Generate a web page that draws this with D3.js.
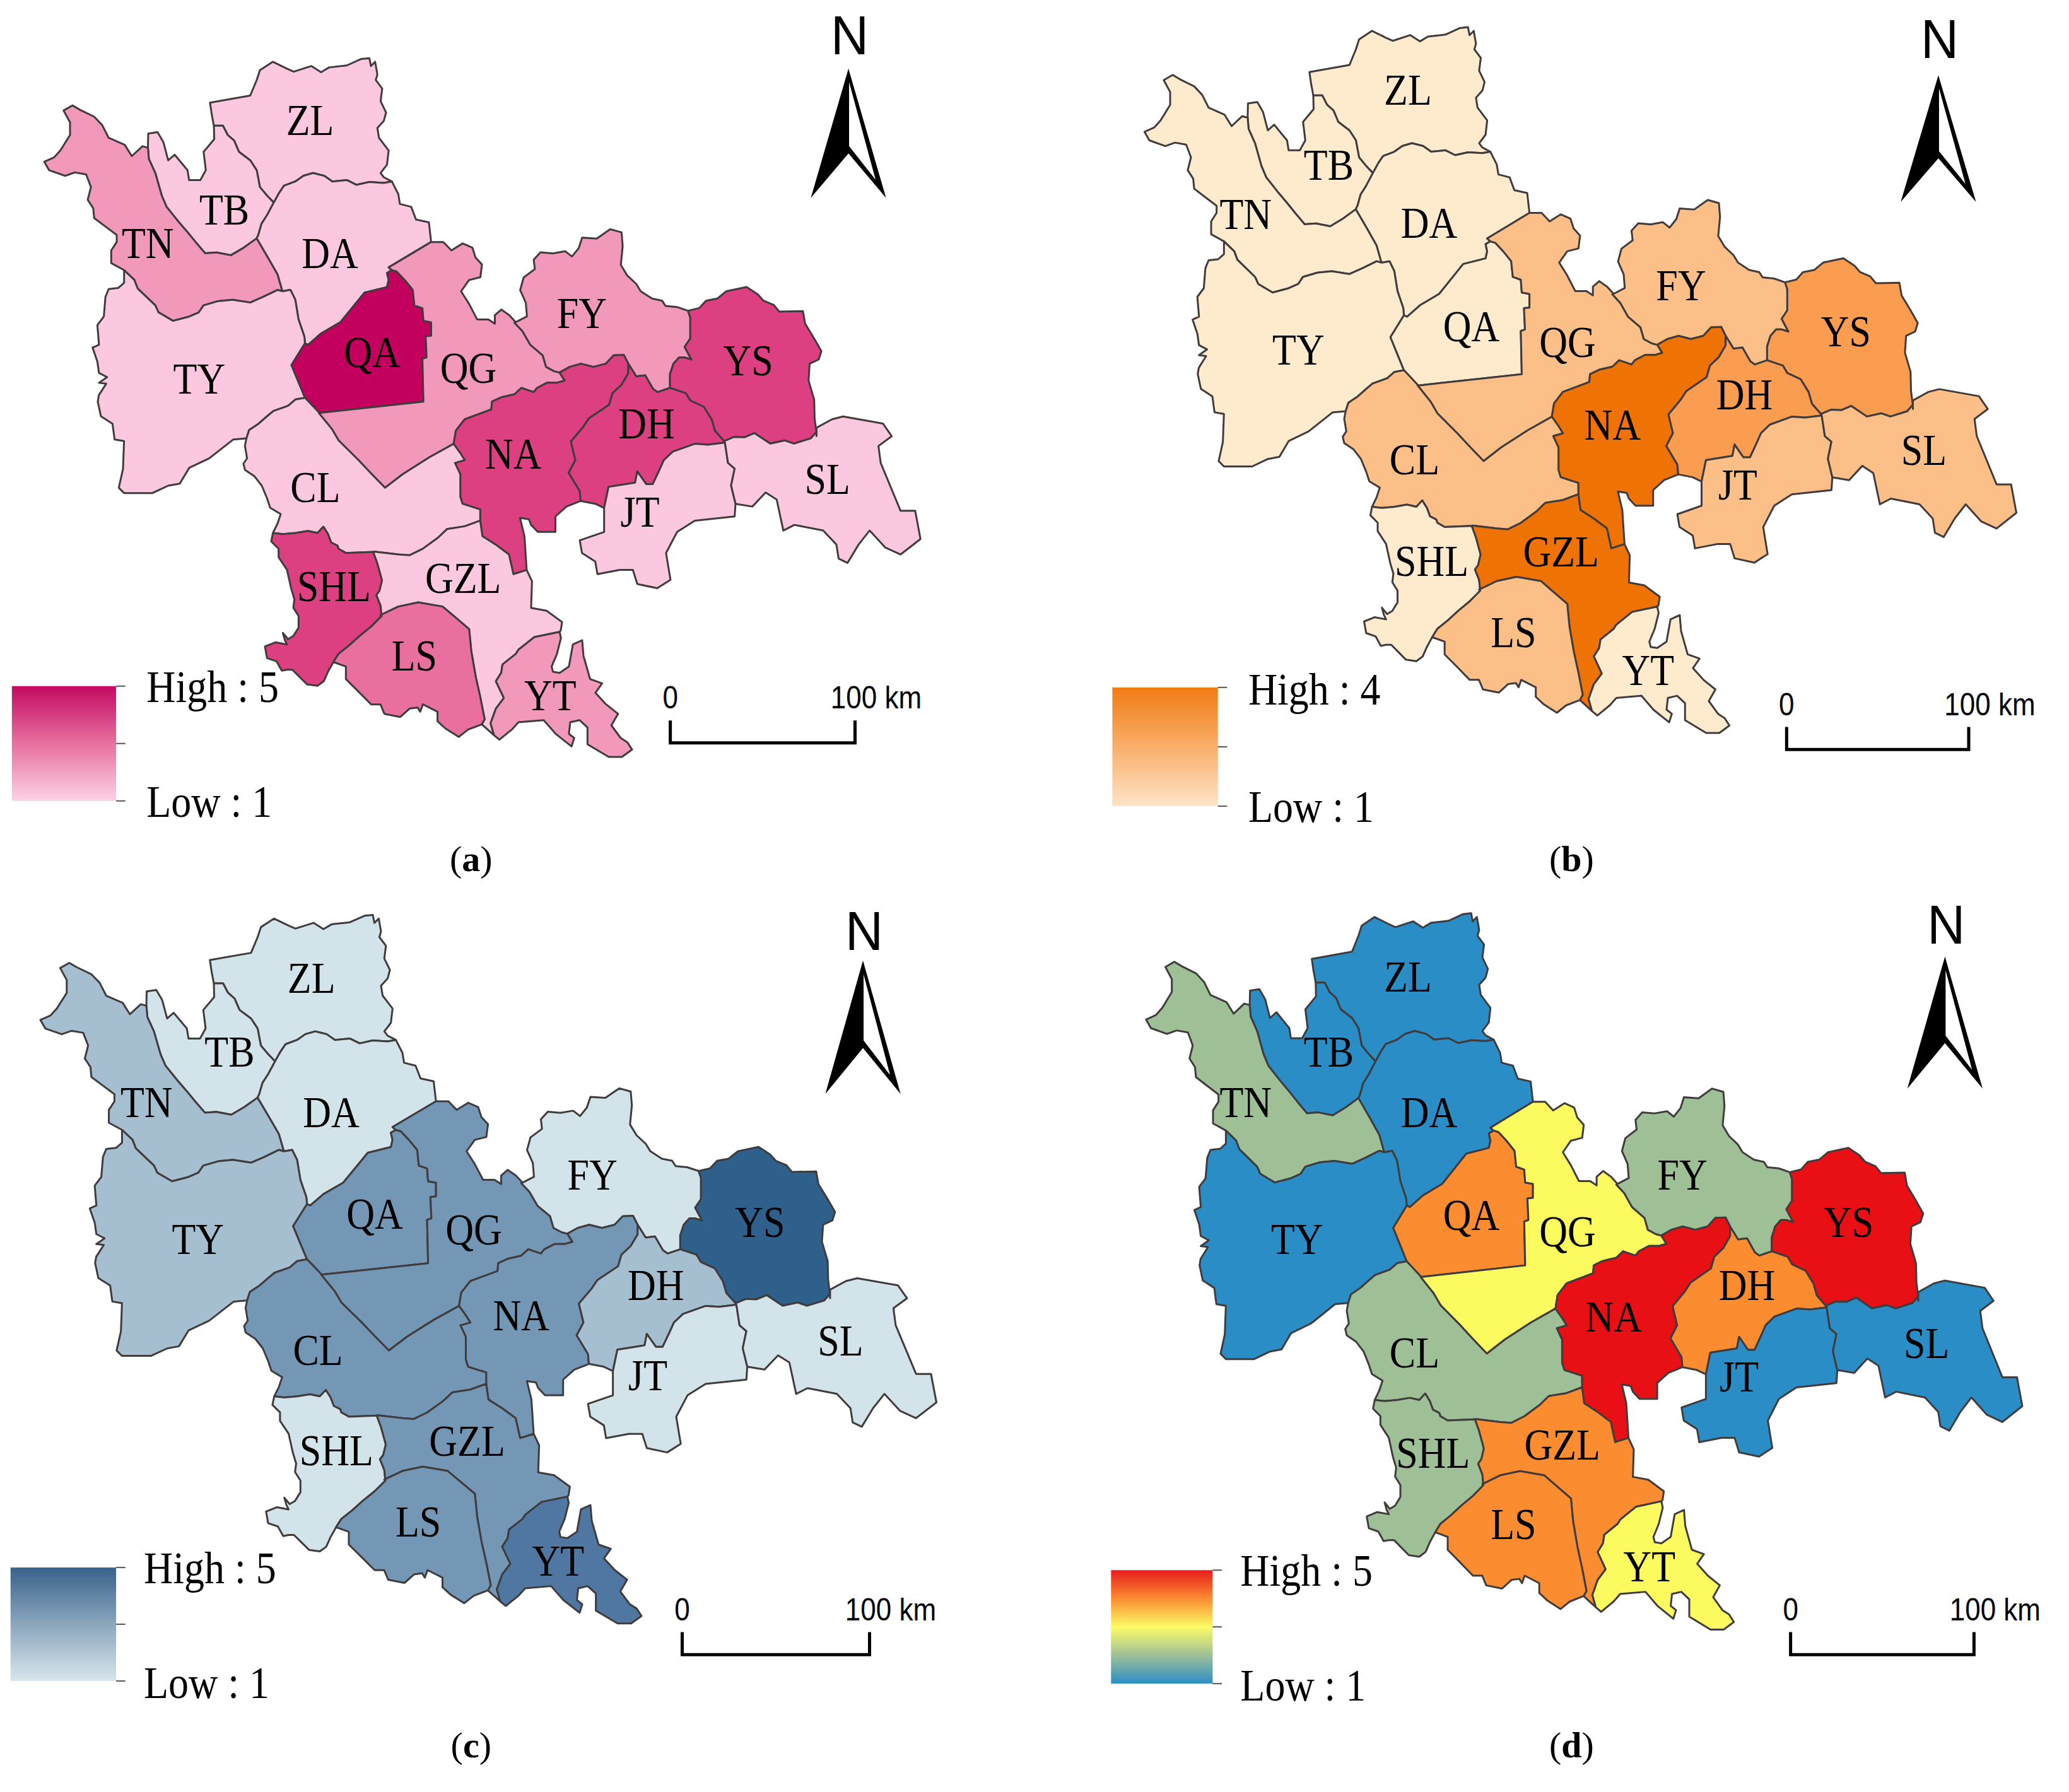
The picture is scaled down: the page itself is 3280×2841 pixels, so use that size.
<!DOCTYPE html>
<html lang="en">
<head>
<meta charset="UTF-8">
<title>District maps (a)-(d)</title>
<script src="https://d3js.org/d3.v7.min.js"></script>
<style>
    body { margin: 0; background: #fff; }
    .district { stroke: #403c3e; stroke-width: 3; stroke-linejoin: round; }
    .label, .legend-text, .caption { font-family: "Liberation Serif", serif; fill: #000; }
    .label { font-size: 62px; text-anchor: middle; }
    .legend-text { font-size: 64px; }
    .caption { font-size: 58px; text-anchor: middle; }
    .caption tspan { font-weight: bold; }
    .scale-text, .north { font-family: "Liberation Sans", sans-serif; fill: #000; }
    .scale-text { font-size: 44px; text-anchor: middle; }
    .north { font-size: 88px; text-anchor: middle; }
</style>
</head>
<body>
<svg id="chart" width="3280" height="2841"></svg>
<script>
// Districts and their class (1-5) on each of the four maps
const districts = ["ZL", "TB", "TN", "DA", "TY", "QA", "QG", "FY", "YS", "NA", "DH", "JT", "SL", "CL", "SHL", "GZL", "LS", "YT"];
const valuesA = [1, 1, 2, 1, 1, 5, 2, 2, 4, 4, 4, 1, 1, 1, 4, 1, 3, 2];
const valuesB = [1, 1, 1, 1, 1, 1, 2, 2, 3, 4, 3, 2, 2, 2, 1, 4, 2, 1];
const valuesC = [1, 1, 2, 1, 2, 3, 3, 1, 5, 3, 2, 1, 1, 3, 1, 3, 3, 4];
const valuesD = [1, 1, 2, 1, 1, 4, 3, 2, 5, 5, 4, 1, 1, 2, 2, 4, 4, 3];

const rampA = ["#fcc8e0", "#f298ba", "#e86f9e", "#dc4081", "#c4005f"];
const rampB = ["#feeacd", "#fdbf88", "#fa9d50", "#ee7204"];
const rampC = ["#d3e3ea", "#a5bed0", "#7597b6", "#4f77a1", "#2f5f8b"];
const rampD = ["#2b8dc6", "#9fc097", "#fbfb60", "#fb8c30", "#e81015"];

const highLabels = ["High : 5", "High : 4", "High : 5", "High : 5"];
const lowLabels = ["Low : 1", "Low : 1", "Low : 1", "Low : 1"];
const captions = ["a", "b", "c", "d"];
const scaleLabels = ["0", "100 km"];

const sheet = (x0, y0, sx, sy) => pts => pts.map(([x, y]) => [x0 + x / sx, y0 + y / sy]);
const s1 = sheet(60, 60, 1.96, 2.24);
const s2 = sheet(400, 600, 1.4255, 2.24);
const s8 = sheet(140, 600, 3, 3);
const s9 = sheet(780, 340, 2.8, 3);
const s10 = sheet(380, 1000, 2.376, 3);

const zlOut = s1([[547,312],[540,270],[535,230],[660,205],[680,150],[690,115],[730,85],[775,110],[795,120],[850,100],[880,122],[905,105],[960,98],[1005,75],[1030,72],[1035,100],[1048,85],[1055,130],[1050,150],[1070,180],[1065,225],[1082,265],[1075,295],[1055,320],[1060,355],[1090,400],[1085,450],[1065,480],[1075,495],[1100,510]]);
const tbZl = s1([[547,312],[575,312],[590,345],[610,365],[625,405],[660,435],[680,470],[690,530],[712,560],[733,585]]);
const zlDa = s1([[733,585],[750,550],[765,525],[800,510],[825,490],[855,480],[890,490],[915,510],[960,505],[990,522],[1030,512],[1075,515],[1100,510]]);
const tbOut = s1([[547,312],[548,360],[515,405],[522,470],[505,505],[470,505],[465,470],[425,415],[405,435],[390,370],[372,335],[343,340],[342,390]]);
const tbTn = s1([[342,390],[345,430],[365,480],[385,560],[400,600],[435,650],[465,690],[490,725],[520,765],[555,762],[600,772],[640,745],[680,712]]);
const tbDa = s1([[733,585],[712,630],[695,660],[685,700],[680,712]]);
const tnOut = s1([[342,390],[325,385],[292,420],[270,380],[220,355],[200,310],[175,280],[130,255],[108,240],[80,258],[100,300],[100,345],[70,400],[50,425],[20,440],[35,470],[85,490],[115,478],[150,485],[165,530],[155,575],[172,605],[175,640],[210,670],[245,700],[245,725],[228,755],[228,800],[268,825]]);
const tnTy = s1([[268,825],[300,860],[310,890],[365,950],[375,975],[420,1005],[470,990],[500,975],[515,950],[560,935],[605,930],[660,940],[700,920],[745,895],[760,900]]);
const tnDa = s1([[680,712],[715,780],[745,840],[760,900]]);
const tyDa = s1([[760,900],[785,895],[800,930],[810,1000],[828,1060],[830,1085]]);
const tyQa = s1([[830,1085],[788,1162],[830,1278]]);
const daQa = s1([[830,1085],[840,1090],[880,1050],[940,1010],[1015,905],[1085,885],[1090,860],[1085,835],[1100,825]]);
const daQg = s1([[1100,825],[1090,815],[1222,725]]);
const daOut = s1([[1100,510],[1120,555],[1125,590],[1160,600],[1175,645],[1215,655],[1222,725]]);
const qaQg = s1([[1100,825],[1115,830],[1140,860],[1165,895],[1170,950],[1195,960],[1198,1005],[1222,1010],[1222,1058],[1205,1060],[1208,1135],[1195,1140],[1198,1292],[875,1332]]);
const clQa = s1([[830,1278],[875,1332]]);
const tyCl = s8([[1030,92],[985,100],[950,130],[880,155],[850,180],[810,215],[765,245],[752,285]]);
const tyOut = s1([[268,825],[268,870],[250,888],[220,892],[210,920],[205,990],[185,1020],[190,1090],[170,1100],[185,1150],[190,1190],[215,1205],[190,1225]])
    .concat(s8([[85,25],[50,80],[45,110],[60,180],[115,215],[125,290],[170,298],[165,430],[145,520],[170,545],[305,545],[380,510],[435,500],[480,425],[575,380],[690,290],[752,285]]));
const clOut = s8([[752,285],[745,320],[750,350],[755,380],[738,405],[745,435],[790,465],[825,510],[850,570],[865,615],[915,645],[900,690],[878,735]]);
const clShl = s8([[878,735],[925,740],[985,735],[1045,725],[1090,735],[1118,705],[1140,740],[1155,780],[1185,795],[1190,810],[1225,830],[1355,825]]);
const clGzl = s2([[275,615],[330,625],[355,628],[385,605],[420,565],[440,535],[480,525],[515,505]]);
const clNa = s2([[455,232],[470,265],[480,290],[458,300],[470,340],[470,420],[475,445],[515,465],[515,505]]);
const clQg = s2([[150,122],[180,180],[195,220],[240,290],[270,340],[300,388],[340,340],[400,280],[455,232]]);
const qgOut = s1([[1222,725],[1260,725],[1285,755],[1320,730],[1350,745],[1360,780],[1380,805],[1375,850],[1340,860],[1315,900],[1340,945],[1365,1000],[1400,1000],[1420,1015],[1420,985],[1440,965],[1465,985],[1485,1010]]);
const qgFy = s9([[100,515],[135,555],[170,620],[225,670],[240,725],[275,745],[300,752]]);
const qgNa = s9([[300,752],[322,790],[290,800],[245,800],[200,825],[185,845],[130,825],[100,855],[40,870],[0,890]])
    .concat(s2([[540,110],[480,145],[460,185],[455,232]]));
const naFy = s9([[300,752],[345,725],[395,710],[450,725],[505,710],[540,670],[585,668],[605,710]]);
const naDh = s9([[605,710],[605,755],[575,810],[535,850],[520,905],[430,970],[405,1010],[350,1080]])
    .concat(s2([[730,290],[715,335],[740,400],[742,435]]));
const fyDh = s9([[605,710],[640,770],[680,765],[715,830],[735,845],[790,825]]);
const fyYs = s9([[790,825],[790,760],[805,710],[830,680],[855,680],[885,690],[855,630],[880,590],[880,490],[870,458]]);
const fyOut = s9([[100,515],[155,485],[150,420],[125,360],[140,300],[190,260],[185,215],[215,180],[270,185],[325,175],[355,200],[385,160],[400,110],[465,115],[525,70],[575,85],[580,150],[572,240],[600,290],[640,330],[660,365],[710,400],[755,410],[770,435],[820,440],[870,458]]);
const ysOut = s9([[870,458],[920,445],[950,410],[1000,400],[1040,365],[1130,345],[1180,380],[1205,410],[1250,430],[1275,462],[1380,460],[1390,520],[1430,590],[1462,650],[1450,690],[1410,710],[1405,790],[1430,880],[1432,970],[1440,1035]]);
const ysSl = s9([[1440,1035],[1415,1065],[1340,1090],[1300,1075],[1235,1090],[1165,1040],[1120,1060],[1075,1058],[1030,1078]]);
const ysDh = s9([[790,825],[860,850],[880,885],[940,915],[975,975],[990,1030],[1030,1078]]);
const dhJt = s2([[1068,228],[1030,235],[1000,232],[950,260],[930,290],[920,325],[905,375],[890,375],[870,330],[865,370],[805,385],[795,460]]);
const dhOut = s2([[742,435],[775,445],[795,460]]);
const jtSl = s2([[1068,228],[1075,300],[1090,320],[1082,380],[1092,445]]);
const jtOut = s2([[795,460],[795,545],[740,575],[745,620],[775,650],[780,695],[830,680],[860,680],[870,730],[915,745],[945,715],[935,620],[960,545],[1000,505],[1060,495],[1090,490],[1092,445]]);
const slOut = s2([[1092,445],[1130,455],[1160,405],[1185,430],[1200,540],[1225,520],[1290,540],[1320,590],[1325,640],[1345,655],[1370,590],[1395,540],[1430,600],[1465,625],[1510,570],[1498,470],[1465,470],[1420,300],[1415,240],[1445,205],[1425,160],[1335,135],[1310,145],[1275,175],[1275,205]]);
const naGzl = s2([[515,505],[520,560],[550,590],[580,625],[590,695],[620,680]]);
const naOut = s2([[742,435],[710,455],[685,490],[685,545],[645,545],[630,520],[625,500],[605,495],[615,560],[620,680]]);
const gzlOut = s2([[620,680],[632,720],[630,815],[665,825],[700,865],[697,895]]);
const gzlYt = s10([[1205,5],[1110,30],[1050,90],[1040,110],[990,160],[985,200],[965,240],[995,320],[965,370],[945,440],[958,497]]);
const lsGzl = s2([[290,840],[330,810],[375,795],[430,810],[460,850],[490,890],[495,970],[505,1060],[515,1130],[525,1210]]).concat(s10([[912,445]]));
const gzlTail = s10([[912,445],[958,497]]);
const shlGzl = s8([[1355,825],[1375,880],[1397,960],[1385,1010],[1370,1030],[1390,1080],[1395,1130]]);
const shlLs = s8([[1395,1130],[1345,1180],[1290,1225],[1240,1270],[1190,1310],[1165,1350]]);
const shlOut = s8([[878,735],[870,775],[905,810],[905,850],[945,910],[965,1000],[980,1050],[975,1090],[1000,1130],[1000,1185],[975,1225],[950,1240],[925,1210],[935,1245],[945,1265],[890,1255],[840,1275],[850,1330],[895,1345],[920,1390],[945,1385],[970,1385],[1000,1415],[1040,1455],[1090,1462],[1120,1440],[1140,1395],[1165,1350]]);
const lsOut = s10([[355,150],[400,170],[400,230],[440,280],[495,350],[530,350],[545,395],[605,410],[640,370],[670,365],[680,385],[690,350],[745,385],[745,430],[775,465],[825,505],[860,470],[912,445]]);
const ytOut = s10([[958,497],[978,518],[1025,470],[1050,435],[1145,425],[1190,490],[1250,550],[1260,510],[1240,490],[1245,435],[1280,425],[1310,460],[1310,540],[1390,600],[1440,600],[1478,565],[1460,530],[1435,510],[1400,450],[1425,395],[1380,350],[1340,295],[1365,250],[1320,230],[1295,120],[1290,45],[1255,65],[1240,170],[1205,200],[1180,195],[1175,170],[1195,110],[1210,35],[1205,5]]);

const rev = a => a.slice().reverse();

// Rings in the same order as districts
const rings = [
    [zlOut, rev(zlDa), rev(tbZl)],
    [tbZl, tbDa, rev(tbTn), rev(tbOut)],
    [tbTn, tnDa, rev(tnTy), rev(tnOut)],
    [zlDa, daOut, rev(daQg), rev(daQa), rev(tyDa), rev(tnDa), rev(tbDa)],
    [tyOut, rev(tyCl), rev(tyQa), rev(tyDa), rev(tnTy)],
    [tyQa, clQa, rev(qaQg), rev(daQa)],
    [daQg, qgOut, qgFy, qgNa, rev(clQg), rev(qaQg)],
    [fyOut, rev(fyYs), rev(fyDh), rev(naFy), rev(qgFy)],
    [fyYs, ysOut, ysSl, rev(ysDh)],
    [rev(qgNa), naFy, naDh, naOut, rev(naGzl), rev(clNa)],
    [fyDh, ysDh, dhJt, rev(dhOut), rev(naDh)],
    [rev(dhJt), jtSl, rev(jtOut)],
    [rev(jtSl), rev(ysSl), rev(slOut)],
    [tyCl, clOut, clShl, clGzl, rev(clNa), rev(clQg), rev(clQa)],
    [clShl, shlGzl, shlLs, rev(shlOut)],
    [naGzl, gzlOut, gzlYt, rev(gzlTail), rev(lsGzl), rev(shlGzl), clGzl],
    [shlLs, lsOut, rev(lsGzl)],
    [gzlYt, ytOut]
];

const features = districts.map((name, i) => {
    const coords = rings[i].flat();
    coords.push(coords[0]);
    return { type: "Feature", properties: { name, index: i }, geometry: { type: "Polygon", coordinates: [coords] } };
});

const k = 3280 / 1568; // layout below is measured on the 1568 wide preview
const tall = 1.13; // the source text is stretched vertically

// Placement of each map panel, preview units
const panels = [
    { values: valuesA, ramp: rampA, stops: ["#c40a62", "#e8709e", "#fcd2e6"], sx: 1, sy: 1, tx: 0, ty: 0,
      legend: [9, 520, 88, 607], textX: 111, high: 532, low: 619, bar: [508, 648, 563], scaleY: 537, north: [643, 41, 52, 150], cap: [357, 660],
      labels: [[235,91],[170,159],[112,184],[250,192],[151,287],[282,267],[355,279],[441,237],[567,273],[389,344],[490,321],[485,388],[627,363],[239,369],[253,444],[351,438],[314,497],[417,527]] },
    { values: valuesB, ramp: rampB, stops: ["#f07c14", "#f9ae6a", "#fde4c8"], sx: 0.995, sy: 1.01, tx: 834, ty: -23.9,
      legend: [843, 521, 923, 611], textX: 946, high: 534, low: 623, bar: [1354, 1492, 568], scaleY: 542, north: [1469, 44, 57, 153], cap: [1191, 660],
      labels: [[1067,68],[1007,125],[944,162],[1083,169],[984,265],[1115,247],[1188,259],[1274,216],[1399,251],[1222,322],[1322,299],[1317,367],[1458,341],[1072,348],[1085,425],[1183,418],[1147,479],[1249,508]] },
    { values: valuesC, ramp: rampC, stops: ["#39628c", "#8ba6bd", "#d8e6ec"], sx: 1.0226, sy: 1.014, tx: -3.7, ty: 648.7,
      legend: [8, 1188, 88, 1274], textX: 109, high: 1200, low: 1287, bar: [517, 659, 1254], scaleY: 1228, north: [654, 720, 728, 829], cap: [357, 1332],
      labels: [[236,741],[174,797],[111,835],[251,843],[150,939],[284,920],[359,932],[449,890],[576,926],[395,997],[497,974],[491,1042],[637,1016],[241,1023],[255,1099],[354,1092],[317,1153],[423,1183]] },
    { values: valuesD, ramp: rampD, stops: ["#e61e1e", "#fb8c30", "#fcfb66", "#9fc097", "#2b8dc6"], sx: 1, sy: 1.025, tx: 835, ty: 647,
      legend: [842, 1190, 919, 1276], textX: 940, high: 1202, low: 1289, bar: [1357, 1496, 1254], scaleY: 1228, north: [1474, 715, 725, 825], cap: [1191, 1332],
      labels: [[1067,740],[1007,797],[944,835],[1083,843],[983,939],[1115,921],[1188,933],[1275,890],[1401,926],[1223,998],[1324,974],[1318,1043],[1460,1018],[1072,1025],[1086,1101],[1184,1095],[1147,1155],[1250,1187]] }
];

const svg = d3.select("#chart");
const defs = svg.append("defs");
const stretched = (x, y) => `translate(${x},${y}) scale(1,${tall})`;

panels.forEach((p, pi) => {
    const g = svg.append("g");

    // map geometry is in reference pixels of panel (a)
    const xMap = d3.scaleLinear().domain([0, 1]).range([p.tx * k, p.tx * k + p.sx]);
    const yMap = d3.scaleLinear().domain([0, 1]).range([p.ty * k, p.ty * k + p.sy]);
    const path = d3.geoPath(d3.geoTransform({
        point(x, y) { this.stream.point(xMap(x), yMap(y)); }
    }));
    const colour = d3.scaleOrdinal().domain(d3.range(1, p.ramp.length + 1)).range(p.ramp);

    g.selectAll("path.district")
        .data(features)
        .enter().append("path")
        .attr("class", "district")
        .attr("d", path)
        .attr("fill", d => colour(p.values[d.properties.index]));

    g.selectAll("text.label")
        .data(districts)
        .enter().append("text")
        .attr("class", "label")
        .attr("transform", (d, i) => stretched(p.labels[i][0] * k, p.labels[i][1] * k))
        .attr("dy", "0.34em")
        .text(d => d);

    // legend
    const [lx0, ly0, lx1, ly1] = p.legend;
    const grad = defs.append("linearGradient")
        .attr("id", "ramp" + pi)
        .attr("x1", 0).attr("y1", 0).attr("x2", 0).attr("y2", 1);
    p.stops.forEach((c, i) => {
        grad.append("stop").attr("offset", i / (p.stops.length - 1)).attr("stop-color", c);
    });
    g.append("rect")
        .attr("x", lx0 * k).attr("y", ly0 * k)
        .attr("width", (lx1 - lx0) * k).attr("height", (ly1 - ly0) * k)
        .attr("fill", `url(#ramp${pi})`);
    [ly0, (ly0 + ly1) / 2, ly1].forEach(y => {
        g.append("line")
            .attr("x1", lx1 * k).attr("x2", (lx1 + 7) * k)
            .attr("y1", y * k).attr("y2", y * k)
            .attr("stroke", "#555").attr("stroke-width", 2);
    });
    g.append("text").attr("class", "legend-text").attr("transform", stretched(p.textX * k, p.high * k)).text(highLabels[pi]);
    g.append("text").attr("class", "legend-text").attr("transform", stretched(p.textX * k, p.low * k)).text(lowLabels[pi]);

    // scale bar
    const [bx0, bx1, by] = p.bar;
    g.append("path")
        .attr("d", `M${bx0 * k},${(by - 17) * k}V${by * k}H${bx1 * k}V${(by - 17) * k}`)
        .attr("fill", "none").attr("stroke", "#000").attr("stroke-width", 5);
    g.append("text").attr("class", "scale-text").attr("transform", stretched(bx0 * k, p.scaleY * k)).text(scaleLabels[0]);
    g.append("text").attr("class", "scale-text").attr("transform", stretched((bx1 + 16) * k, p.scaleY * k)).text(scaleLabels[1]);

    // north arrow: black outline shape with the white facet cut into its right half
    const [nx, nBase, apex, tail] = p.north;
    const cx = nx * k, top = apex * k, span = (tail - apex) * k, half = 28.5 * k;
    g.append("text").attr("class", "north")
        .attr("x", cx + 2).attr("y", nBase * k)
        .attr("textLength", 60).attr("lengthAdjust", "spacingAndGlyphs")
        .text("N");
    g.append("path")
        .attr("d", `M${cx},${top}L${cx + half},${top + span}L${cx},${top + span * 0.656}L${cx - half},${top + span}Z`)
        .attr("fill", "#000");
    g.append("path")
        .attr("d", `M${cx + 1},${top + span * 0.104}L${cx + half * 0.72},${top + span * 0.858}L${cx + 1},${top + span * 0.6}Z`)
        .attr("fill", "#fff");

    // caption
    const cap = g.append("text").attr("class", "caption").attr("x", p.cap[0] * k).attr("y", p.cap[1] * k);
    cap.append("tspan").style("font-weight", "normal").text("(");
    cap.append("tspan").text(captions[pi]);
    cap.append("tspan").style("font-weight", "normal").text(")");
});
</script>
</body>
</html>
